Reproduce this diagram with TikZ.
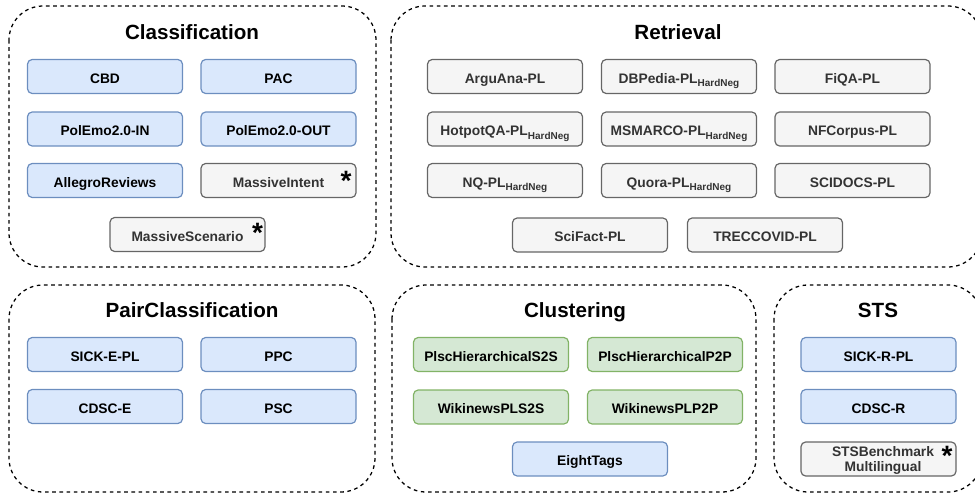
\documentclass[tikz,border=0pt]{standalone}
\usepackage{fontspec}
\setmainfont{Liberation Sans}
\definecolor{bluefill}{HTML}{DAE8FC}
\definecolor{bluedraw}{HTML}{6C8EBF}
\definecolor{greenfill}{HTML}{D5E8D4}
\definecolor{greendraw}{HTML}{82B366}
\definecolor{greyfill}{HTML}{F5F5F5}
\definecolor{greydraw}{HTML}{666666}
\definecolor{greytext}{HTML}{333333}
\newcommand{\hardneg}{\raisebox{-2.6pt}{\fontsize{7.5}{8}\selectfont HardNeg}}
\begin{document}
\begin{tikzpicture}[x=0.75pt,y=-0.75pt,
  container/.style={draw=black, dash pattern=on 2.7pt off 2.7pt, line width=0.95pt, rounded corners=25.5pt},
  title/.style={anchor=base, inner sep=0pt, font=\fontsize{15.45}{18}\selectfont\bfseries},
  dsbox/.style={rectangle, rounded corners=3.5pt, line width=0.9pt, minimum height=25.5pt, minimum width=116.25pt, text height=10.2pt, text depth=0pt, inner sep=0pt, font=\fontsize{10.35}{12}\selectfont\bfseries},
  bluebox/.style={dsbox, fill=bluefill, draw=bluedraw, text=black},
  greenbox/.style={dsbox, fill=greenfill, draw=greendraw, text=black},
  greybox/.style={dsbox, fill=greyfill, draw=greydraw, text=greytext},
  starmark/.style={anchor=base, inner sep=0pt, font=\fontsize{21}{21}\selectfont\bfseries, text=black}
]
\useasboundingbox (0,0) rectangle (975,496);
\clip (0,0) rectangle (975,496);

% containers
\draw[container] (9,6) rectangle (376,267);
\draw[container] (391,6) rectangle (982,267);
\draw[container] (9,285) rectangle (375,492);
\draw[container] (392,285) rectangle (756,492);
\draw[container] (774,285) rectangle (982,492);

% titles
\node[title] (tcls) at (192,39.7) {Classification};
\node[title] (tret) at (678,39.7) {Retrieval};
\node[title] (tpair) at (192,317.4) {PairClassification};
\node[title] (tclu) at (575,317.4) {Clustering};
\node[title] (tsts) at (878,317.4) {STS};

% Classification
\node[bluebox] (cbd) at (105,76.5) {CBD};
\node[bluebox] (pac) at (278.5,76.5) {PAC};
\node[bluebox] (pin) at (105,129) {PolEmo2.0-IN};
\node[bluebox] (pout) at (278.5,129) {PolEmo2.0-OUT};
\node[bluebox] (allegro) at (105,180.5) {AllegroReviews};
\node[greybox] (mint) at (278.5,180.5) {MassiveIntent};
\node[greybox] (mscen) at (187.5,234.5) {MassiveScenario};
\node[starmark] (s1) at (346,190.5) {*};
\node[starmark] (s2) at (257.5,242) {*};

% Retrieval
\node[greybox] (argu) at (505,76.5) {ArguAna-PL};
\node[greybox] (dbp) at (679,76.5) {DBPedia-PL\hardneg};
\node[greybox] (fiqa) at (852.5,76.5) {FiQA-PL};
\node[greybox] (hotpot) at (505,129) {HotpotQA-PL\hardneg};
\node[greybox] (msm) at (679,129) {MSMARCO-PL\hardneg};
\node[greybox] (nfc) at (852.5,129) {NFCorpus-PL};
\node[greybox] (nq) at (505,180.5) {NQ-PL\hardneg};
\node[greybox] (quora) at (679,180.5) {Quora-PL\hardneg};
\node[greybox] (scid) at (852.5,180.5) {SCIDOCS-PL};
\node[greybox] (scif) at (590,235) {SciFact-PL};
\node[greybox] (trec) at (765,235) {TRECCOVID-PL};

% PairClassification
\node[bluebox] (sicke) at (105,354.5) {SICK-E-PL};
\node[bluebox] (ppc) at (278.5,354.5) {PPC};
\node[bluebox] (cdsce) at (105,406.5) {CDSC-E};
\node[bluebox] (psc) at (278.5,406.5) {PSC};

% Clustering
\node[greenbox] (ps2s) at (491,354.5) {PlscHierarchicalS2S};
\node[greenbox] (pp2p) at (665,354.5) {PlscHierarchicalP2P};
\node[greenbox] (ws2s) at (491,407) {WikinewsPLS2S};
\node[greenbox] (wp2p) at (665,407) {WikinewsPLP2P};
\node[bluebox] (eight) at (590,459) {EightTags};

% STS
\node[bluebox] (sickr) at (878.5,354.5) {SICK-R-PL};
\node[bluebox] (cdscr) at (878.5,406.5) {CDSC-R};
\node[greybox, text height=, text depth=] (stsb) at (878.5,459) {};
\node[align=center, inner sep=0pt, text=greytext, font=\fontsize{10.35}{11.7}\selectfont\bfseries] (stsbt) at (883,460.5) {STSBenchmark\\Multilingual};
\node[starmark] (s3) at (947,465.5) {*};
\end{tikzpicture}
\end{document}
